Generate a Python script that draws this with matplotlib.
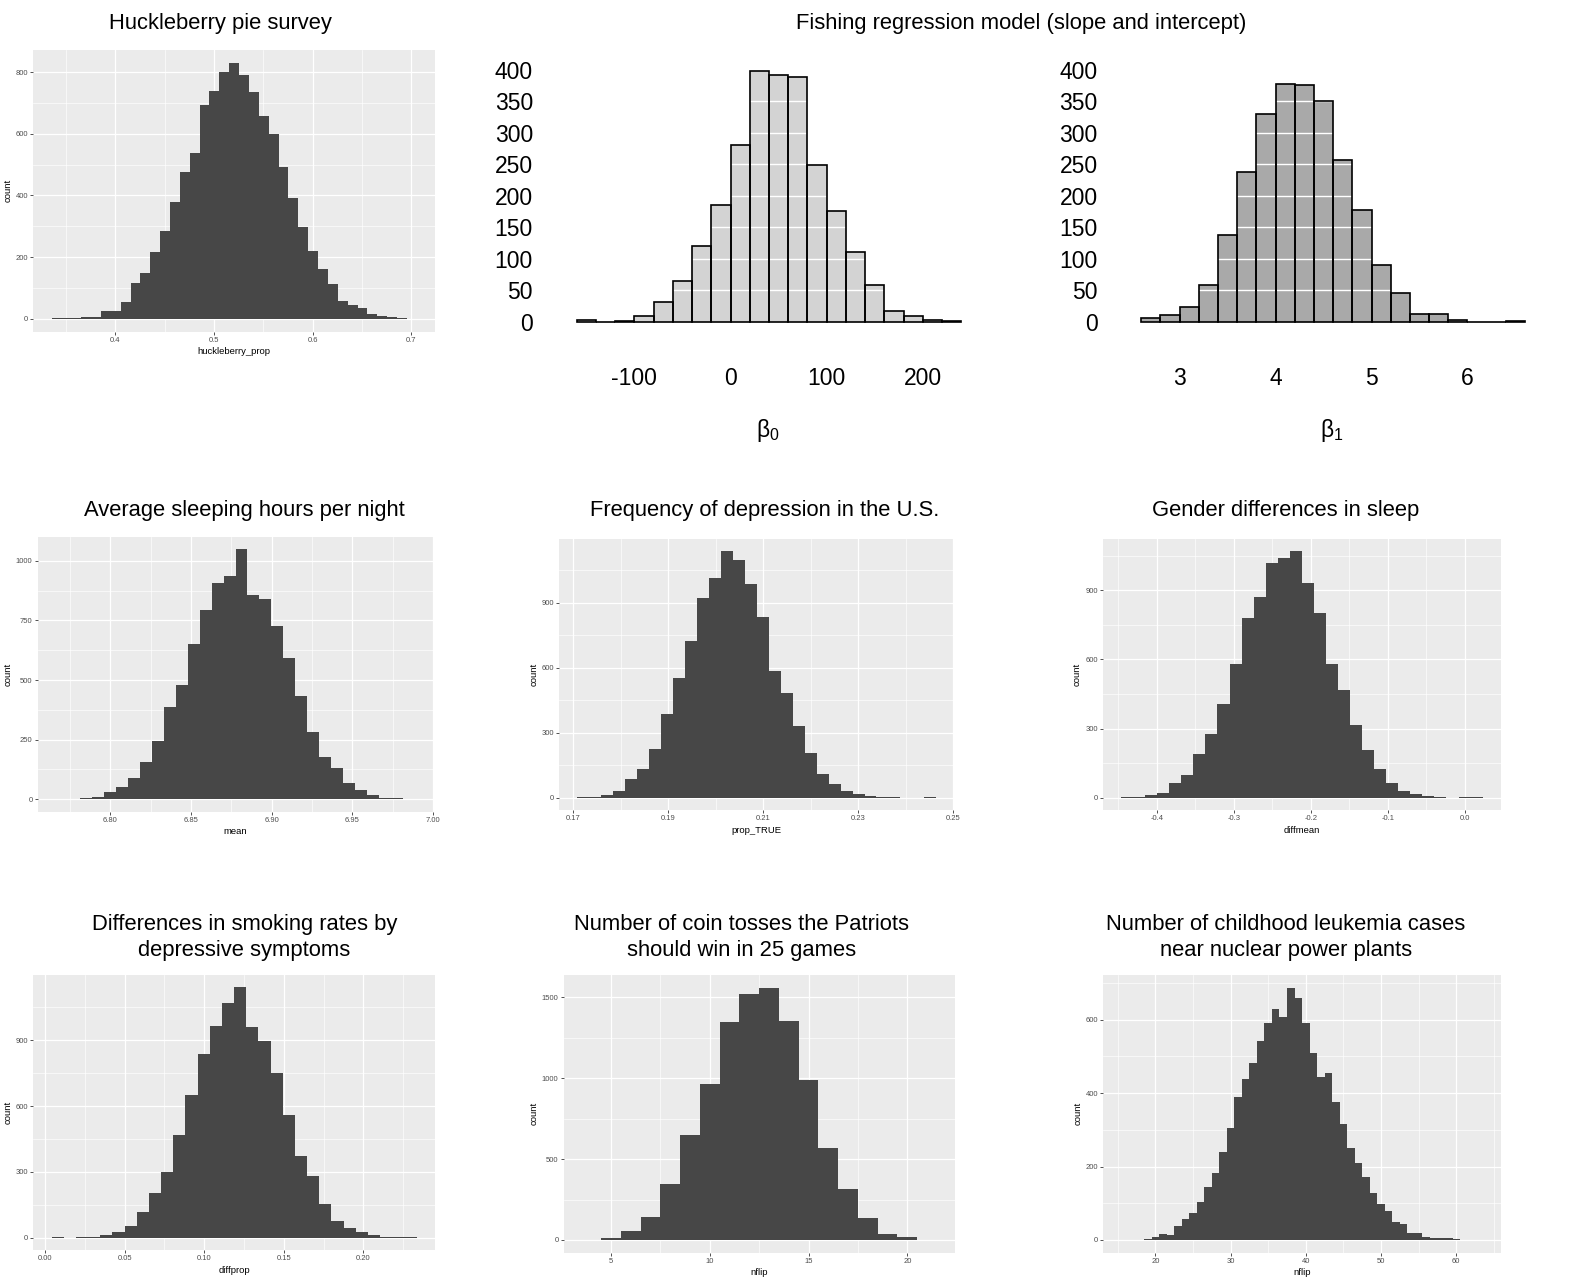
import numpy as np
import matplotlib
matplotlib.use('Agg')
import matplotlib.pyplot as plt
from matplotlib.ticker import FixedLocator

plt.rcParams['font.family'] = ['Liberation Sans', 'DejaVu Sans']
plt.rcParams['mathtext.fontset'] = 'custom'
plt.rcParams['mathtext.rm'] = 'Liberation Sans'
plt.rcParams['mathtext.it'] = 'Liberation Sans'

# ---------------- data ----------------
# Huckleberry pie survey (binwidth 0.01)
huck_start, huck_bw = 0.3355, 0.01
huck_counts = [2, 4, 4, 7, 7, 25, 27, 56, 115, 150, 218, 286, 379, 477, 539, 693, 738,
               799, 830, 791, 735, 657, 598, 492, 393, 299, 221, 163, 113, 59, 44, 34,
               15, 10, 5, 2, 1]
huck_xticks = [0.4, 0.5, 0.6, 0.7]
huck_xlabels = ['0.4', '0.5', '0.6', '0.7']
huck_yticks = [0, 200, 400, 600, 800]

# Fishing regression: beta0 (intercept) and beta1 (slope)
b0_edges = [-160, -140, -120, -100, -80, -60, -40, -20, 0, 20, 40, 60, 80, 100, 120,
            140, 160, 180, 200, 220, 240]
b0_counts = [2, 0, 1, 9, 32, 64, 120, 186, 280, 398, 391, 389, 248, 176, 110, 58, 17,
             9, 3, 1]
b0_xticks = [-100, 0, 100, 200]
b1_edges = [2.6, 2.8, 3.0, 3.2, 3.4, 3.6, 3.8, 4.0, 4.2, 4.4, 4.6, 4.8, 5.0, 5.2, 5.4,
            5.6, 5.8, 6.0, 6.2, 6.4, 6.6]
b1_counts = [6, 11, 24, 59, 137, 237, 330, 378, 376, 351, 256, 177, 90, 45, 13, 13, 2,
             0, 0, 1]
b1_xticks = [3, 4, 5, 6]
beta_yticks = [0, 50, 100, 150, 200, 250, 300, 350, 400]

# Average sleeping hours per night (30 bins)
sleep_range = (6.7662, 6.989)
sleep_counts = [1, 1, 4, 11, 29, 50, 88, 158, 246, 385, 481, 653, 794, 909, 937, 1048,
                859, 839, 727, 592, 432, 283, 176, 130, 66, 39, 18, 7, 3, 1]
sleep_xticks = [6.80, 6.85, 6.90, 6.95, 7.00]
sleep_xlabels = ['6.80', '6.85', '6.90', '6.95', '7.00']
sleep_yticks = [0, 250, 500, 750, 1000]

# Frequency of depression in the U.S. (30 bins)
dep_range = (0.17084, 0.24642)
dep_counts = [1, 5, 14, 31, 85, 131, 225, 386, 554, 725, 922, 1012, 1137, 1098, 986,
              835, 583, 481, 332, 205, 111, 62, 31, 15, 6, 3, 1, 0, 0, 1]
dep_xticks = [0.17, 0.19, 0.21, 0.23, 0.25]
dep_xlabels = ['0.17', '0.19', '0.21', '0.23', '0.25']
dep_yticks = [0, 300, 600, 900]

# Gender differences in sleep (30 bins)
gen_range = (-0.4463, 0.0229)
gen_counts = [1, 3, 10, 22, 62, 97, 190, 278, 407, 582, 778, 871, 1020, 1042, 1071, 933,
              803, 582, 467, 317, 207, 124, 65, 30, 14, 6, 3, 0, 1, 1]
gen_xticks = [-0.4, -0.3, -0.2, -0.1, 0.0]
gen_xlabels = ['-0.4', '-0.3', '-0.2', '-0.1', '0.0']
gen_yticks = [0, 300, 600, 900]

# Differences in smoking rates by depressive symptoms (30 bins)
smk_range = (0.00419, 0.2335)
smk_counts = [1, 0, 2, 4, 14, 27, 55, 116, 202, 301, 468, 651, 839, 964, 1069, 1142, 962,
              895, 750, 559, 372, 280, 155, 78, 43, 24, 11, 5, 2, 1]
smk_xticks = [0.00, 0.05, 0.10, 0.15, 0.20]
smk_xlabels = ['0.00', '0.05', '0.10', '0.15', '0.20']
smk_yticks = [0, 300, 600, 900]

# Number of coin tosses the Patriots should win in 25 games
coin_values = list(range(4, 22))
coin_counts = [2, 10, 58, 144, 344, 647, 962, 1345, 1523, 1560, 1354, 987, 567, 317, 138,
               35, 16, 2]
coin_xticks = [5, 10, 15, 20]
coin_yticks = [0, 500, 1000, 1500]

# Number of childhood leukemia cases near nuclear power plants
leuk_values = list(range(16, 64))
leuk_counts = [1, 0, 1, 2, 7, 15, 13, 39, 56, 73, 103, 143, 181, 239, 306, 390, 439, 483,
               542, 591, 629, 607, 687, 660, 592, 508, 445, 454, 376, 315, 250, 209, 171,
               127, 98, 79, 50, 44, 18, 20, 9, 6, 5, 5, 4, 0, 0, 1]
leuk_xticks = [20, 30, 40, 50, 60]
leuk_yticks = [0, 200, 400, 600]

# ---------------- figure ----------------
W, H = 1570, 1280
fig = plt.figure(figsize=(W / 100, H / 100), dpi=100)


def px_axes(l, t, r, b):
    return fig.add_axes([l / W, 1 - b / H, (r - l) / W, (b - t) / H])


def minor_between(ticks, lo, hi):
    step = ticks[1] - ticks[0]
    cands = np.arange(ticks[0] - step / 2, ticks[-1] + step, step)
    return [c for c in cands if lo <= c <= hi]


BAR = '#474747'


def gg_panel(box, edges, counts, xticks, xlabels, yticks, xlabel):
    ax = px_axes(*box)
    ax.set_facecolor('#EBEBEB')
    edges = np.asarray(edges, float)
    rng = edges[-1] - edges[0]
    xlo, xhi = edges[0] - 0.05 * rng, edges[-1] + 0.05 * rng
    m = max(counts)
    ylo, yhi = -0.05 * m, 1.05 * m
    ax.set_xlim(xlo, xhi)
    ax.set_ylim(ylo, yhi)
    ax.stairs(counts, edges, baseline=0, fill=True, facecolor=BAR, edgecolor='none',
              lw=0, zorder=3)
    ax.xaxis.set_major_locator(FixedLocator(xticks))
    ax.set_xticklabels(xlabels if xlabels is not None else [str(t) for t in xticks])
    ax.yaxis.set_major_locator(FixedLocator(yticks))
    ax.set_yticklabels([str(t) for t in yticks])
    ax.xaxis.set_minor_locator(FixedLocator(minor_between(xticks, xlo, xhi)))
    ax.yaxis.set_minor_locator(FixedLocator(minor_between(yticks, ylo, yhi)))
    ax.grid(which='major', color='white', lw=0.9)
    ax.grid(which='minor', color='white', lw=0.45)
    ax.set_axisbelow(True)
    for s in ax.spines.values():
        s.set_visible(False)
    ax.tick_params(which='major', length=2.2, width=0.6, color='#333333',
                   labelsize=5.5, labelcolor='#4D4D4D', pad=1.5)
    ax.tick_params(which='minor', length=0)
    ax.set_xlabel(xlabel, fontsize=6.8, labelpad=2.5)
    ax.set_ylabel('count', fontsize=6.8, labelpad=2.5)
    return ax


def beta_panel(box, edges, counts, fill, xticks, sym, sym_xy):
    ax = px_axes(*box)
    ax.set_xlim(edges[0], edges[-1])
    ax.set_ylim(0, 400)
    widths = np.diff(edges)
    ax.bar(edges[:-1], counts, width=widths, align='edge', color=fill,
           edgecolor='none', zorder=1, clip_on=False)
    for y in beta_yticks[1:-1]:
        ax.axhline(y, color='white', lw=1.0, zorder=2)
    ax.bar(edges[:-1], counts, width=widths, align='edge', fill=False,
           edgecolor='black', lw=1.2, zorder=3, clip_on=False)
    ax.set_facecolor('none')
    for s in ax.spines.values():
        s.set_visible(False)
    ax.set_xticks(xticks, [str(t) for t in xticks])
    ax.set_yticks(beta_yticks, [str(t) for t in beta_yticks])
    ax.tick_params(axis='x', length=0, labelsize=16.5, pad=32.5)
    ax.tick_params(axis='y', length=0, labelsize=16.5, pad=31.5)
    fig.text(sym_xy[0] / W, 1 - sym_xy[1] / H, sym, fontsize=16.5,
             ha='center', va='center')
    return ax


# Row 1
gg_panel((33.3, 50, 435, 331.7),
         huck_start + huck_bw * np.arange(len(huck_counts) + 1), huck_counts,
         huck_xticks, huck_xlabels, huck_yticks, 'huckleberry_prop')
beta_panel((576.7, 69.7, 961.3, 321.7), b0_edges, b0_counts, '#D3D3D3', b0_xticks,
           r'$\beta_0$', (768, 430))
beta_panel((1141.3, 69.7, 1525, 321.7), b1_edges, b1_counts, '#A9A9A9', b1_xticks,
           r'$\beta_1$', (1332, 430))

# Row 2
gg_panel((37.7, 537, 433.3, 811.7),
         np.linspace(sleep_range[0], sleep_range[1], len(sleep_counts) + 1), sleep_counts,
         sleep_xticks, sleep_xlabels, sleep_yticks, 'mean')
gg_panel((559.3, 539, 954.3, 810),
         np.linspace(dep_range[0], dep_range[1], len(dep_counts) + 1), dep_counts,
         dep_xticks, dep_xlabels, dep_yticks, 'prop_TRUE')
gg_panel((1103, 538.6, 1500.7, 810),
         np.linspace(gen_range[0], gen_range[1], len(gen_counts) + 1), gen_counts,
         gen_xticks, gen_xlabels, gen_yticks, 'diffmean')

# Row 3
gg_panel((33.4, 974.7, 434.9, 1250.2),
         np.linspace(smk_range[0], smk_range[1], len(smk_counts) + 1), smk_counts,
         smk_xticks, smk_xlabels, smk_yticks, 'diffprop')
gg_panel((563.6, 975, 954.7, 1252.6),
         np.append(np.array(coin_values) - 0.5, coin_values[-1] + 0.5), coin_counts,
         coin_xticks, None, coin_yticks, 'nflip')
gg_panel((1103.4, 975, 1500.7, 1252.6),
         np.append(np.array(leuk_values) - 0.5, leuk_values[-1] + 0.5), leuk_counts,
         leuk_xticks, None, leuk_yticks, 'nflip')

# Titles
TS = 15.8


def title(x, y, s):
    fig.text(x / W, 1 - y / H, s, fontsize=TS, ha='center', va='baseline')


title(220, 29.5, 'Huckleberry pie survey')
title(1021.5, 29.5, 'Fishing regression model (slope and intercept)')
title(244, 516, 'Average sleeping hours per night')
title(764.5, 516, 'Frequency of depression in the U.S.')
title(1286, 516, 'Gender differences in sleep')
title(244.5, 930, 'Differences in smoking rates by')
title(244.5, 956, 'depressive symptoms')
title(741.5, 930, 'Number of coin tosses the Patriots')
title(741.5, 956, 'should win in 25 games')
title(1286, 930, 'Number of childhood leukemia cases')
title(1286, 956, 'near nuclear power plants')

fig.savefig('out.png', dpi=100)
